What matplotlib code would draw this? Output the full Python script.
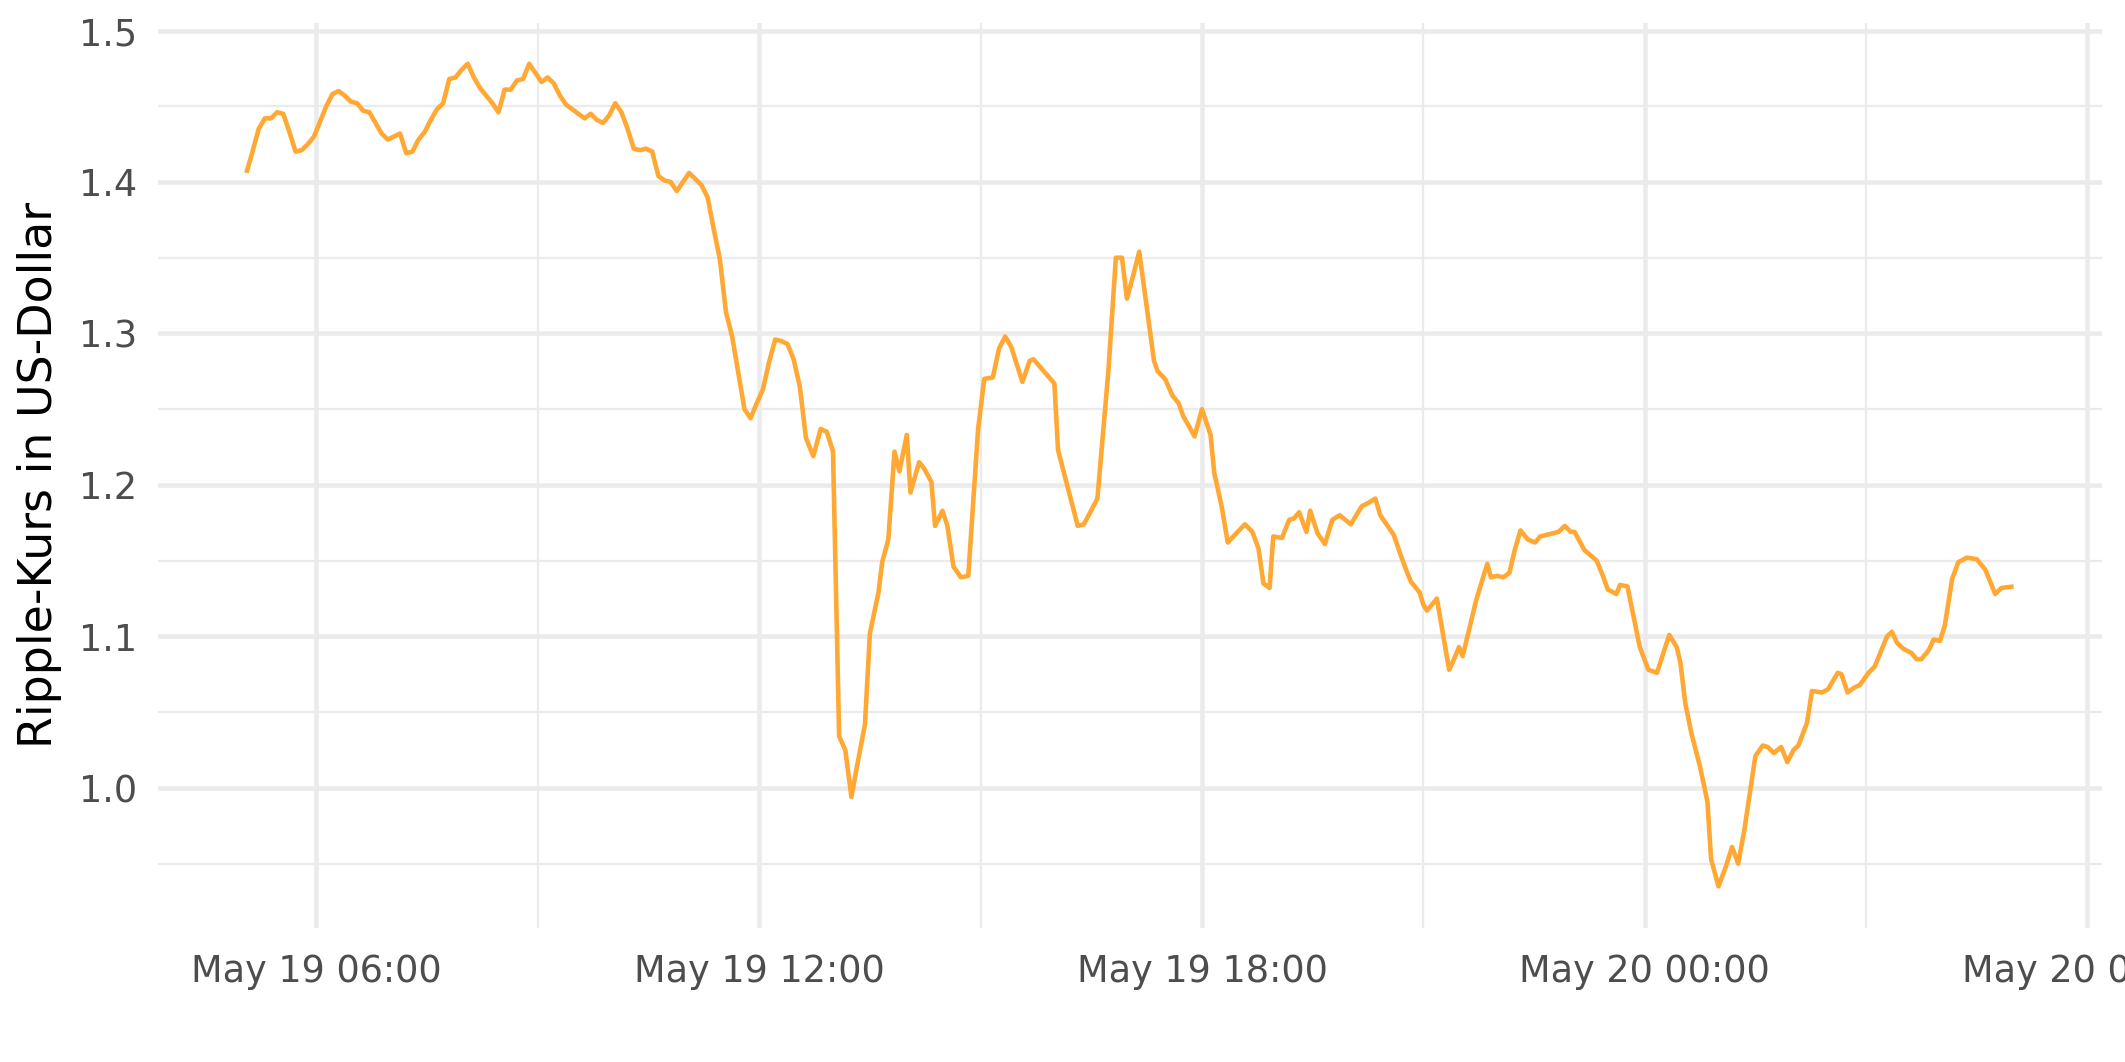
import matplotlib
matplotlib.use("Agg")
import matplotlib.pyplot as plt
import matplotlib.dates as mdates
from matplotlib.ticker import MultipleLocator
import pandas as pd

# Ripple price, May 19 05:00 -> May 20 05:00 (minutes after start)
start = pd.Timestamp("2021-05-19 05:00")

minutes = [
    3, 8, 13, 18, 23, 28, 33, 38, 43, 48, 53, 58, 63, 68, 73, 78, 83, 88, 93, 98,
    103, 108, 113, 118, 123, 128, 133, 138, 143, 148, 153, 158, 163, 168, 173, 178,
    183, 188, 193, 198, 203, 208, 213, 218, 223, 228, 233, 238, 243, 248, 253, 258,
    263, 268, 273, 278, 283, 288, 293, 298, 303, 308, 313, 318, 323, 328, 333, 338,
    343, 348, 353, 358, 363, 368, 373, 378, 383, 388, 393, 398, 403, 408, 413, 418,
    423, 428, 433, 438, 443, 448, 453, 458,
    464, 470, 475, 480, 485, 490, 495, 499, 506, 510, 517, 520, 525, 530, 534, 540,
    543, 550, 554, 560, 563, 569, 573, 578, 584, 590, 598, 603, 610, 615, 620, 625,
    634, 640, 643, 660, 663, 679, 684, 695,
    704, 710, 715, 719, 724, 729, 735, 741, 744, 750, 756, 761, 765, 770, 774, 780,
    787, 790, 796, 801, 809, 815, 821, 826, 830, 835, 838, 845, 851, 855, 859, 865,
    868, 874, 880, 886, 892, 901, 910, 915, 921, 925,
    936, 941, 946, 950, 957, 960, 963, 971, 981, 985, 989, 992, 998, 1003, 1012,
    1015, 1020, 1025, 1030, 1034, 1039, 1045, 1051, 1055, 1060, 1070, 1075, 1080,
    1083, 1091, 1101, 1106, 1110, 1117, 1120, 1126, 1131, 1136, 1143, 1150,
    1160, 1166, 1169, 1173, 1178, 1185, 1191, 1194, 1200, 1206, 1211, 1216, 1221,
    1226, 1230, 1236, 1240, 1245, 1251, 1256, 1261, 1265, 1272, 1276, 1284, 1289,
    1297, 1300, 1305, 1310, 1315, 1322, 1327, 1331, 1337, 1341, 1345, 1350, 1357,
    1361, 1365, 1371, 1375, 1380, 1384, 1390, 1395, 1402, 1410, 1417, 1425, 1430,
    1440,
]

price = [
    1.406, 1.420, 1.435, 1.442, 1.442, 1.446, 1.445, 1.433, 1.420, 1.421,
    1.425, 1.430, 1.440, 1.450, 1.458, 1.460, 1.457, 1.453, 1.452, 1.447,
    1.446, 1.439, 1.432, 1.428, 1.430, 1.432, 1.419, 1.420, 1.428, 1.433,
    1.441, 1.448, 1.452, 1.468, 1.469, 1.474, 1.478, 1.469, 1.462, 1.457,
    1.452, 1.446, 1.461, 1.461, 1.467, 1.468, 1.478, 1.472, 1.466, 1.469,
    1.465, 1.457, 1.451, 1.448, 1.445, 1.442, 1.445, 1.441, 1.439, 1.444,
    1.452, 1.446, 1.435, 1.422, 1.421, 1.422, 1.420, 1.404, 1.401, 1.400,
    1.394, 1.400, 1.406, 1.402, 1.398, 1.390, 1.369, 1.349, 1.314, 1.298,
    1.274, 1.250, 1.244, 1.254, 1.263, 1.281, 1.296, 1.295, 1.293, 1.283,
    1.265, 1.231,
    1.219, 1.237, 1.235, 1.222, 1.034, 1.025, 0.994, 1.012, 1.042, 1.102,
    1.129, 1.149, 1.164, 1.222, 1.209, 1.233, 1.195, 1.215, 1.211, 1.202,
    1.173, 1.183, 1.173, 1.146, 1.139, 1.140, 1.237, 1.270, 1.271, 1.290,
    1.298, 1.291, 1.268, 1.282, 1.283, 1.267, 1.223, 1.173, 1.174, 1.191,
    1.276, 1.350, 1.350, 1.323, 1.338, 1.354, 1.318, 1.282, 1.275, 1.270,
    1.259, 1.254, 1.245, 1.238, 1.232, 1.250, 1.233, 1.208, 1.186, 1.162,
    1.169, 1.174, 1.169, 1.158, 1.135, 1.132, 1.166, 1.165, 1.177, 1.178,
    1.182, 1.169, 1.183, 1.168, 1.161, 1.177, 1.180, 1.174, 1.186, 1.188,
    1.191, 1.180,
    1.167, 1.155, 1.144, 1.136, 1.129, 1.121, 1.117, 1.125, 1.078, 1.085,
    1.093, 1.087, 1.107, 1.124, 1.148, 1.139, 1.140, 1.139, 1.142, 1.156,
    1.170, 1.164, 1.162, 1.166, 1.167, 1.169, 1.173, 1.169, 1.169, 1.157,
    1.150, 1.140, 1.131, 1.128, 1.134, 1.133, 1.113, 1.093, 1.078, 1.076,
    1.101, 1.093, 1.083, 1.056, 1.036, 1.014, 0.991, 0.953, 0.935, 0.948,
    0.961, 0.950, 0.972, 0.999, 1.021, 1.028, 1.027, 1.023, 1.027, 1.017,
    1.025, 1.028, 1.043, 1.064, 1.063, 1.065, 1.076, 1.075, 1.063, 1.066,
    1.068, 1.076, 1.080, 1.088, 1.100, 1.103, 1.096, 1.092, 1.089, 1.085,
    1.085, 1.091, 1.098, 1.097, 1.107, 1.138, 1.149, 1.152, 1.151, 1.144,
    1.128, 1.132, 1.133,
]

y_title = "Ripple-Kurs in US-Dollar"
line_color = "#FFA834"
grid_color = "#EBEBEB"
text_color = "#4D4D4D"

times = start + pd.to_timedelta(minutes, unit="min")

W, H = 2125, 1062
fig = plt.figure(figsize=(W / 300, H / 300), dpi=300)
ax = fig.add_axes([158 / W, 1 - 927.5 / H, (2102 - 158) / W, (927.5 - 22.7) / H])

ax.plot(times, price, color=line_color, lw=1.1, solid_joinstyle="round",
        solid_capstyle="butt", zorder=3)

# ggplot style 5% expansion
tmin, tmax = times.min(), times.max()
span = tmax - tmin
ax.set_xlim(tmin - 0.05 * span, tmax + 0.05 * span)
ymin, ymax = min(price), max(price)
yr = ymax - ymin
ax.set_ylim(ymin - 0.05 * yr, ymax + 0.05 * yr)

ax.xaxis.set_major_locator(mdates.HourLocator(byhour=[0, 6, 12, 18]))
ax.xaxis.set_minor_locator(mdates.HourLocator(byhour=[3, 9, 15, 21]))
ax.xaxis.set_major_formatter(mdates.DateFormatter("%b %d %H:%M"))
ax.yaxis.set_major_locator(MultipleLocator(0.1))
ax.yaxis.set_minor_locator(MultipleLocator(0.05))
ax.yaxis.set_major_formatter(plt.FormatStrFormatter("%.1f"))

ax.grid(which="major", color=grid_color, lw=1.1)
ax.grid(which="minor", color=grid_color, lw=0.55)
ax.set_axisbelow(True)
for s in ax.spines.values():
    s.set_visible(False)

ax.tick_params(which="both", length=0)
ax.tick_params(axis="y", labelsize=8.8, labelcolor=text_color, pad=5)
ax.tick_params(axis="x", labelsize=8.8, labelcolor=text_color, pad=6)

fig.text(40 / W, 1 - 475 / H, y_title, rotation=90, ha="center", va="center",
         fontsize=11, color="black")

fig.savefig("out.png", dpi=300, facecolor="white")
